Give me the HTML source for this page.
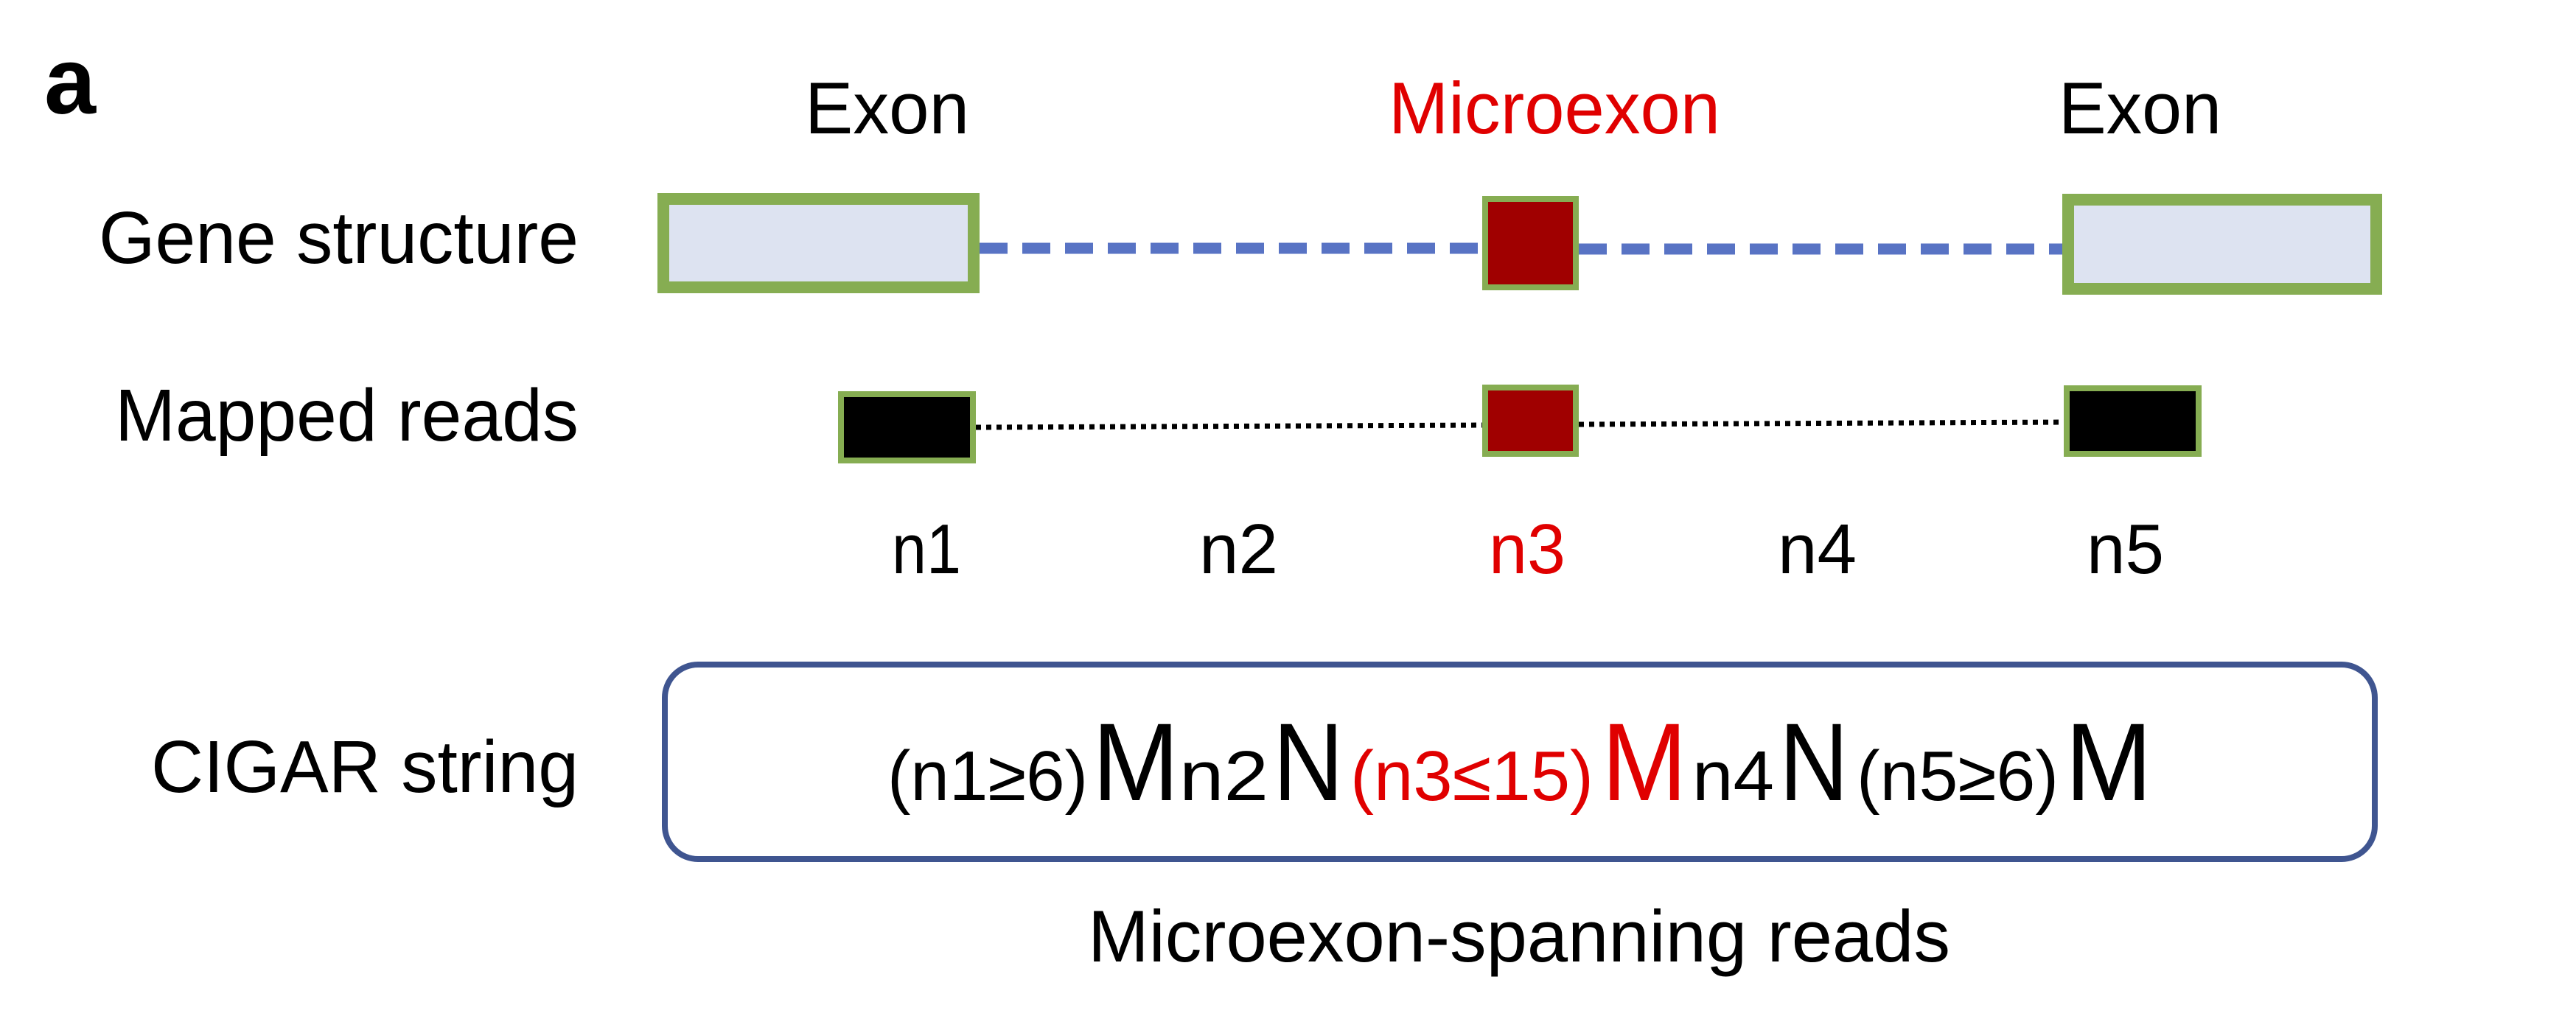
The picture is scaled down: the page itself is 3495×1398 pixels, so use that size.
<!DOCTYPE html>
<html><head><meta charset="utf-8"><style>
html,body{margin:0;padding:0;background:#fff;}
svg{display:block;font-family:"Liberation Sans",Arial,sans-serif;}
</style></head><body>
<svg width="3495" height="1398" viewBox="0 0 3495 1398" xmlns="http://www.w3.org/2000/svg">
<rect width="3495" height="1398" fill="#fff"/>
<text x="60" y="154" font-size="128" font-weight="bold" textLength="70" lengthAdjust="spacingAndGlyphs">a</text>
<text x="1092" y="181" font-size="99" textLength="223" lengthAdjust="spacingAndGlyphs">Exon</text>
<text x="1884" y="181" font-size="99" fill="#e00000" textLength="450" lengthAdjust="spacingAndGlyphs">Microexon</text>
<text x="2793" y="181" font-size="99" textLength="221" lengthAdjust="spacingAndGlyphs">Exon</text>

<text x="134" y="357" font-size="100" textLength="651" lengthAdjust="spacingAndGlyphs">Gene structure</text>
<line x1="1329" y1="337" x2="2011" y2="337" stroke="#5873c4" stroke-width="15" stroke-dasharray="38 20"/>
<line x1="2142" y1="338" x2="2798" y2="338" stroke="#5873c4" stroke-width="15" stroke-dasharray="38 20"/>
<rect x="900" y="270" width="421" height="120" fill="#dde3f1" stroke="#86ad52" stroke-width="16"/>
<rect x="2806" y="271" width="418" height="121" fill="#dde3f1" stroke="#86ad52" stroke-width="16"/>
<rect x="2015" y="270" width="123" height="120" fill="#a00000" stroke="#86ad52" stroke-width="8"/>

<text x="156" y="598" font-size="100" textLength="629" lengthAdjust="spacingAndGlyphs">Mapped reads</text>
<line x1="1324" y1="580" x2="2011" y2="577" stroke="#000" stroke-width="7" stroke-dasharray="7 7"/>
<line x1="2142" y1="576" x2="2800" y2="573" stroke="#000" stroke-width="7" stroke-dasharray="7 7"/>
<rect x="1141" y="535" width="179" height="90" fill="#000" stroke="#86ad52" stroke-width="8"/>
<rect x="2015" y="526" width="123" height="90" fill="#a00000" stroke="#86ad52" stroke-width="8"/>
<rect x="2804" y="527" width="179" height="89" fill="#000" stroke="#86ad52" stroke-width="8"/>

<text x="1210" y="778" font-size="96" textLength="94" lengthAdjust="spacingAndGlyphs">n1</text>
<text x="1627" y="778" font-size="96" textLength="107" lengthAdjust="spacingAndGlyphs">n2</text>
<text x="2020" y="778" font-size="96" fill="#e00000" textLength="104" lengthAdjust="spacingAndGlyphs">n3</text>
<text x="2412" y="778" font-size="96" textLength="107" lengthAdjust="spacingAndGlyphs">n4</text>
<text x="2831" y="778" font-size="96" textLength="105" lengthAdjust="spacingAndGlyphs">n5</text>

<text x="205" y="1075" font-size="100" textLength="580" lengthAdjust="spacingAndGlyphs">CIGAR string</text>
<rect x="902" y="902" width="2320" height="264" rx="45" ry="45" fill="#fff" stroke="#3f5590" stroke-width="8"/>
<g font-size="96">
<text x="1204" y="1086" textLength="272" lengthAdjust="spacingAndGlyphs">(n1≥6)</text>
<text x="1482" y="1086" font-size="150" textLength="118" lengthAdjust="spacingAndGlyphs">M</text>
<text x="1600" y="1086" textLength="121" lengthAdjust="spacingAndGlyphs">n2</text>
<text x="1727" y="1086" font-size="150" textLength="96" lengthAdjust="spacingAndGlyphs">N</text>
<text x="1832" y="1086" fill="#e00000" textLength="330" lengthAdjust="spacingAndGlyphs">(n3≤15)</text>
<text x="2173" y="1086" font-size="150" fill="#e00000" textLength="116" lengthAdjust="spacingAndGlyphs">M</text>
<text x="2296" y="1086" textLength="111" lengthAdjust="spacingAndGlyphs">n4</text>
<text x="2414" y="1086" font-size="150" textLength="94" lengthAdjust="spacingAndGlyphs">N</text>
<text x="2519" y="1086" textLength="274" lengthAdjust="spacingAndGlyphs">(n5≥6)</text>
<text x="2802" y="1086" font-size="150" textLength="118" lengthAdjust="spacingAndGlyphs">M</text>
</g>
<text x="1476" y="1305" font-size="99" textLength="1170" lengthAdjust="spacingAndGlyphs">Microexon-spanning reads</text>
</svg>
</body></html>
